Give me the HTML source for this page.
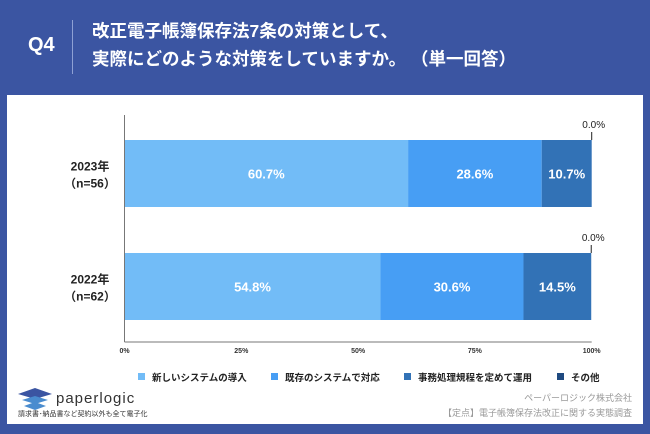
<!DOCTYPE html>
<html><head><meta charset="utf-8"><style>
body{margin:0;width:650px;height:434px;background:#3b55a2;font-family:"Liberation Sans","Noto Sans CJK JP",sans-serif;overflow:hidden;position:relative}
.t{position:absolute;white-space:nowrap}
</style></head><body>
<div class="t" style="left:28px;top:34px;color:#fff;font-size:20px;font-weight:bold">Q4</div>
<div style="position:absolute;left:72px;top:20px;width:1px;height:54px;background:#8ea0d4"></div>
<div class="t" style="left:92px;top:17px;color:#fff;font-size:17.5px;font-weight:bold;line-height:28px">改正電子帳簿保存法7条の対策として、<br>実際にどのような対策をしていますか。 （単一回答）</div>
<div style="position:absolute;left:7px;top:95px;width:636px;height:329px;background:#fff"></div>
<svg id="c" width="650" height="434" style="position:absolute;left:0;top:0"></svg>
<div class="t" style="left:56px;top:390px;font-size:15px;color:#333;letter-spacing:1px">paperlogic</div>
<svg style="position:absolute;left:16px;top:387px" width="38" height="26"><polygon points="2,7 19,1 36,7 19,12" fill="#3b55a2"/><polygon points="6,13 19,9 32,13 19,17" fill="#4a8ccf"/><polygon points="8,19 19,15 30,19 19,23" fill="#4a8ccf"/></svg>
<div class="t" style="left:18px;top:409px;font-size:7px;color:#333">請求書･納品書など契約以外も全て電子化</div>
<div class="t" style="right:18px;top:391px;font-size:9px;color:#999">ペーパーロジック株式会社</div>
<div class="t" style="right:18px;top:406px;font-size:9px;color:#999">【定点】電子帳簿保存法改正に関する実態調査</div>
<script>
const categories=["2023年\n(n=56)","2022年\n(n=62)"];
const seriesNames=["新しいシステムの導入","既存のシステムで対応","事務処理規程を定めて運用","その他"];
const s1=[60.7,54.8];
const s2=[28.6,30.6];
const s3=[10.7,14.5];
const s4=[0.0,0.0];
const ticks=[0,25,50,75,100];
const colors=["#72bcf7","#479ef4","#3272b6","#1f4a80"];
const svg=document.getElementById('c');const NS="http://www.w3.org/2000/svg";
const x0=124.5,x1=591.7,yTop=[140,253],bh=67;
const X=v=>x0+(x1-x0)*v/100;
function mk(t,a){const e=document.createElementNS(NS,t);for(const k in a)e.setAttribute(k,a[k]);svg.appendChild(e);return e;}
const series=[s1,s2,s3,s4];
categories.forEach((c,i)=>{let acc=0;const y=yTop[i];
 series.forEach((s,j)=>{const v=s[i];
  const r=mk('rect',{x:X(acc),y:y,width:X(acc+v)-X(acc),height:bh,fill:colors[j]});
  
  
  if(v>0){const t=mk('text',{x:(X(acc)+X(acc+v))/2,y:y+bh/2+5,'text-anchor':'middle',fill:'#fff','font-size':13,'font-weight':'bold'});t.textContent=v.toFixed(1)+'%';
   
   }
  else{const l=mk('line',{x1:X(acc),x2:X(acc),y1:y-8,y2:y,stroke:'#222','stroke-width':1});
   
   
   const t=mk('text',{x:X(acc)+2,y:y-12,'text-anchor':'middle',fill:'#222','font-size':10});t.textContent=v.toFixed(1)+'%';
   
   }
  acc+=v;});
 const lines=c.split("\n");lines.forEach((ln,k)=>{const t=mk('text',{x:90,y:y+bh/2-3+k*17,'text-anchor':'middle',fill:'#222','font-size':12,'font-weight':'bold'});t.textContent=ln.replace('(','（').replace(')','）');
  
  });
});
const ya=mk('line',{x1:x0,x2:x0,y1:115,y2:342,stroke:'#777','stroke-width':1});


const xa=mk('line',{x1:x0,x2:x1,y1:342,y2:342,stroke:'#777','stroke-width':1});


ticks.forEach(v=>{const t=mk('text',{x:X(v),y:353,'text-anchor':'middle',fill:'#333','font-size':7,'font-weight':'bold'});t.textContent=v+'%';
 
 });
const lx=[138,271,404,557];
seriesNames.forEach((n,j)=>{const r=mk('rect',{x:lx[j],y:373,width:7,height:7,fill:colors[j]});
 
 
 const t=mk('text',{x:lx[j]+14,y:381,fill:'#222','font-size':9.5,'font-weight':'bold'});t.textContent=n;
 
 });
</script>
</body></html>
